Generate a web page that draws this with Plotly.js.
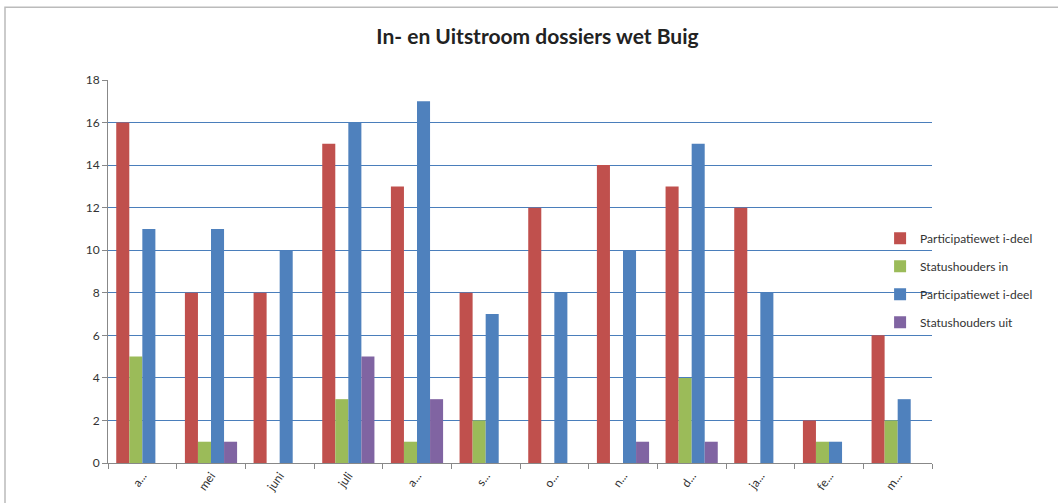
<!DOCTYPE html>
<html><head><meta charset="utf-8">
<script src="https://cdn.plot.ly/plotly-3.0.1.min.js"></script>
<style>html,body{margin:0;padding:0;background:#fff}#c{width:1058px;height:503px}</style>
</head><body><div id="c"></div>
<script>
const categories = ["a...", "mei", "juni", "juli", "a...", "s...", "o...", "n...", "d...", "ja...", "fe...", "m..."];
const seriesNames = ["Participatiewet i-deel", "Statushouders in", "Participatiewet i-deel", "Statushouders uit"];
const partInRed   = [16, 8, 8, 15, 13, 8, 12, 14, 13, 12, 2, 6];
const statusIn    = [5, 1, 0, 3, 1, 2, 0, 0, 4, 0, 1, 2];
const partUitBlue = [11, 11, 10, 16, 17, 7, 8, 10, 15, 8, 1, 3];
const statusUit   = [0, 1, 0, 5, 3, 0, 0, 1, 1, 0, 0, 0];
const colors = ["#c0504d", "#9bbb59", "#4f81bd", "#8064a2"];

// unique category keys (duplicate labels such as "a..." appear twice)
const catKeys = categories.map((c, i) => c + "\u200b".repeat(i));
const values = [partInRed, statusIn, partUitBlue, statusUit];
const traces = values.map((v, k) => ({
  type: "bar", x: catKeys, y: v, name: seriesNames[k],
  marker: {color: colors[k]}, legendgroup: "g" + k
}));

const layout = {
  width: 1058, height: 503,
  margin: {l: 108, r: 126, t: 80, b: 40, autoexpand: false},
  paper_bgcolor: "#fff", plot_bgcolor: "#fff",
  font: {family: "Lato, 'Open Sans', sans-serif", color: "#333"},
  title: {text: "<b>In- en Uitstroom dossiers wet Buig</b>", font: {size: 21, color: "#222"},
          x: 0.508, xanchor: "center", y: 0.927, yanchor: "middle"},
  barmode: "group", bargap: 0.24, bargroupgap: 0,
  xaxis: {
    type: "category", tickmode: "array", tickvals: catKeys, ticktext: categories,
    tickson: "boundaries", tickangle: -55,
    showline: true, linecolor: "#888", linewidth: 1,
    ticks: "outside", ticklen: 5, tickcolor: "#888",
    showgrid: false, zeroline: false,
    tickfont: {size: 12, color: "#333"}
  },
  yaxis: {
    range: [0, 18], dtick: 2, tick0: 0,
    showline: true, linecolor: "#888", linewidth: 1,
    ticks: "outside", ticklen: 5, tickcolor: "#888",
    gridcolor: "#4a7ebb", gridwidth: 1, zeroline: false,
    tickfont: {size: 12, color: "#333"}
  },
  showlegend: true,
  legend: {x: 0.937, xanchor: "left", y: 0.625, yanchor: "top",
           bgcolor: "rgba(0,0,0,0)", font: {size: 12, color: "#333"},
           tracegroupgap: 9, itemwidth: 30},
  shapes: [
    {type: "rect", xref: "paper", yref: "paper",
     x0: -0.125, x1: 1.2, y0: -0.2, y1: 1.19,
     line: {color: "#bbb", width: 1.5}, fillcolor: "rgba(0,0,0,0)", layer: "below"}
  ]
};

Plotly.newPlot("c", traces, layout, {displayModeBar: false});
</script></body></html>
